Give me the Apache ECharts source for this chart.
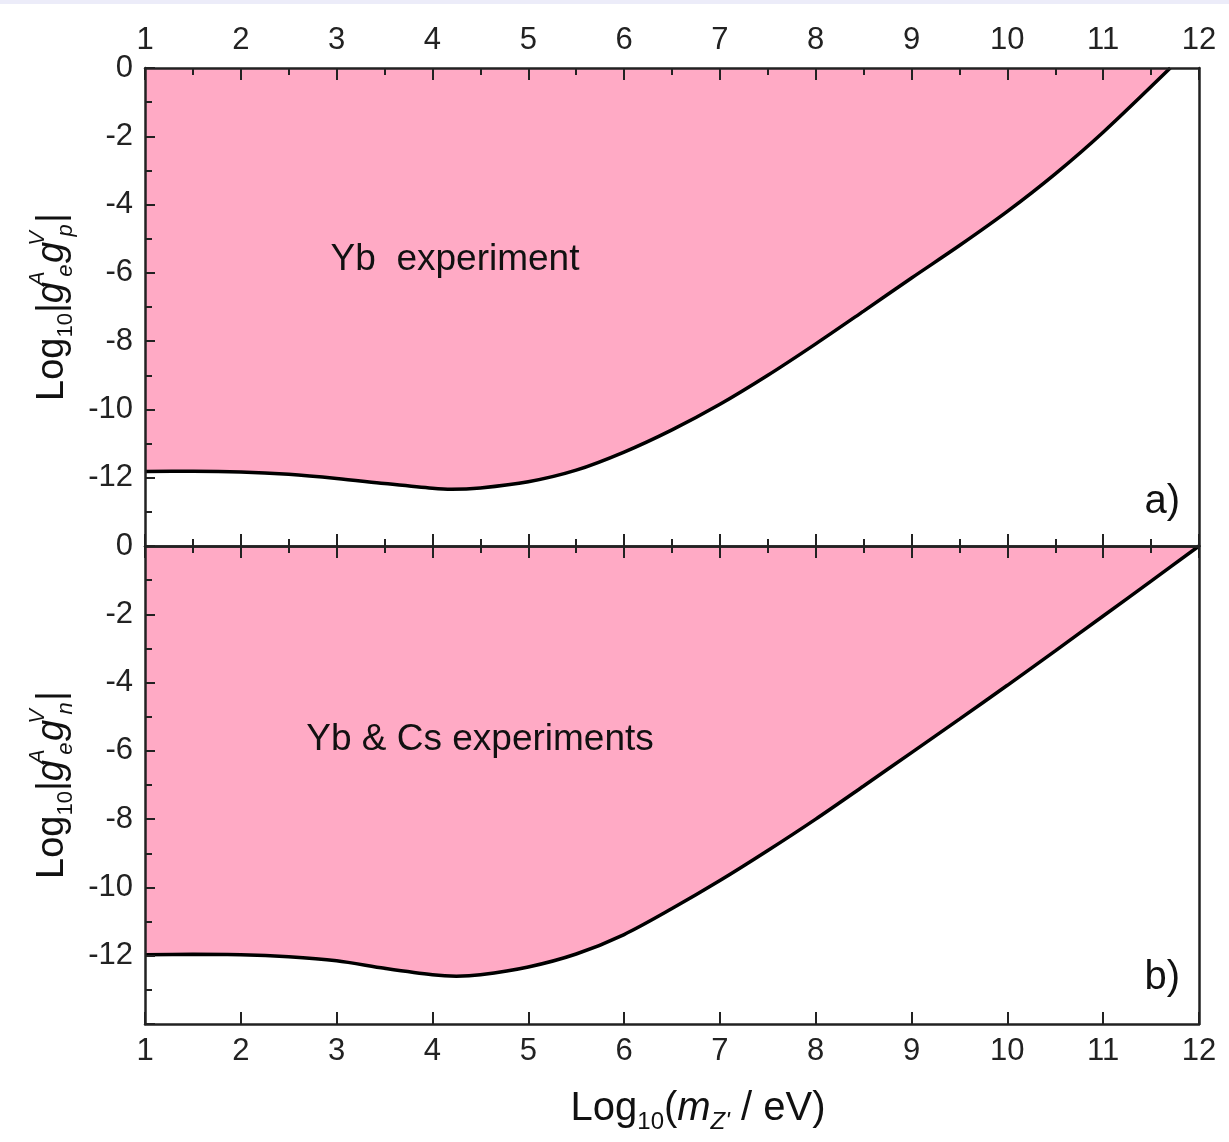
<!DOCTYPE html>
<html>
<head>
<meta charset="utf-8">
<script src="https://cdn.jsdelivr.net/npm/echarts@6/dist/echarts.min.js"></script>
<style>
  html, body { margin: 0; padding: 0; background: #fff; }
  #chart { width: 1229px; height: 1142px; }
</style>
</head>
<body>
<div id="chart"></div>
<script>
// panel a) Yb experiment: boundary of excluded region
const xA = [1, 1.5, 2, 2.5, 3, 3.5, 4, 4.2, 4.5, 5, 5.5, 6, 6.5, 7, 7.5, 8, 8.5, 9, 9.5, 10, 10.5, 11, 11.7]
const yA = [-11.82, -11.81, -11.83, -11.9, -12.02, -12.17, -12.31, -12.34, -12.3, -12.12, -11.78, -11.25, -10.6, -9.85, -9.0, -8.08, -7.12, -6.15, -5.2, -4.2, -3.1, -1.88, 0]

// panel b) Yb & Cs experiments
const xB = [1, 1.5, 2, 2.5, 3, 3.5, 4, 4.25, 4.5, 5, 5.5, 6, 6.5, 7, 7.5, 8, 8.5, 9, 9.5, 10, 10.5, 11, 11.5, 12]
const yB = [-11.97, -11.96, -11.97, -12.03, -12.15, -12.37, -12.56, -12.6, -12.56, -12.33, -11.95, -11.38, -10.62, -9.8, -8.92, -8.0, -7.03, -6.05, -5.07, -4.08, -3.07, -2.05, -1.03, 0]

const xRange = [1, 12]
const yRange = [-14, 0]

const FONT = '"Liberation Sans", Arial, sans-serif'
const AX = '#222'
const FILL = '#ffaac5'

function pairs(xs, ys) {
  return xs.map((x, i) => [x, ys[i]])
}

function makeX(gridIndex, position, showLabel, minor) {
  return {
    type: 'value',
    gridIndex: gridIndex,
    position: position,
    min: xRange[0],
    max: xRange[1],
    interval: 1,
    z: 5,
    axisLine: { show: true, onZero: false, lineStyle: { color: AX, width: 2.5 } },
    axisTick: { show: true, inside: true, length: 12, lineStyle: { color: AX, width: 2 } },
    minorTick: { show: minor, splitNumber: 2, length: 7, lineStyle: { color: AX, width: 2 } },
    axisLabel: { show: showLabel, fontSize: 31, color: '#222', fontFamily: FONT, margin: 12 },
    splitLine: { show: false }
  }
}

const nameRich = {
  n: { fontSize: 38, fontFamily: FONT, color: '#111', lineHeight: 50 },
  x: { fontSize: 40, fontFamily: FONT, color: '#111', lineHeight: 50 },
  xi: { fontSize: 40, fontFamily: FONT, color: '#111', lineHeight: 50, fontStyle: 'italic' },
  g: { fontSize: 38, fontFamily: FONT, color: '#111', lineHeight: 50, fontStyle: 'italic', padding: [0, 3, 0, 0] },
  s: { fontSize: 22, fontFamily: FONT, color: '#111', lineHeight: 22, verticalAlign: 'bottom' },
  s2: { fontSize: 24, fontFamily: FONT, color: '#111', lineHeight: 24, verticalAlign: 'bottom' },
  si: { fontSize: 22, fontFamily: FONT, color: '#111', lineHeight: 22, verticalAlign: 'bottom', fontStyle: 'italic', width: 15 },
  si2: { fontSize: 24, fontFamily: FONT, color: '#111', lineHeight: 24, verticalAlign: 'bottom', fontStyle: 'italic' },
  p: { fontSize: 22, fontFamily: FONT, color: '#111', lineHeight: 22, verticalAlign: 'top', fontStyle: 'italic', width: 1 }
}

function makeY(gridIndex, name) {
  return {
    type: 'value',
    gridIndex: gridIndex,
    position: 'left',
    min: yRange[0],
    max: yRange[1],
    interval: 2,
    z: 5,
    name: name,
    nameLocation: 'middle',
    nameRotate: 90,
    nameGap: 60,
    nameTextStyle: { rich: nameRich },
    axisLine: { show: true, onZero: false, lineStyle: { color: AX, width: 2.5 } },
    axisTick: { show: true, inside: true, length: 10, lineStyle: { color: AX, width: 2 } },
    minorTick: { show: true, splitNumber: 2, length: 7, lineStyle: { color: AX, width: 2 } },
    axisLabel: { fontSize: 31, color: '#222', fontFamily: FONT, margin: 12, showMinLabel: false },
    splitLine: { show: false }
  }
}

function makeRightY(gridIndex) {
  return {
    type: 'value',
    gridIndex: gridIndex,
    position: 'right',
    min: yRange[0],
    max: yRange[1],
    z: 5,
    axisLine: { show: true, onZero: false, lineStyle: { color: AX, width: 2.5 } },
    axisTick: { show: false },
    axisLabel: { show: false },
    splitLine: { show: false }
  }
}

function makeSeries(xi, yi, data) {
  return {
    type: 'line',
    xAxisIndex: xi,
    yAxisIndex: yi,
    data: data,
    smooth: 0.3,
    symbol: 'none',
    lineStyle: { color: '#000', width: 3.5 },
    areaStyle: { color: FILL, opacity: 1, origin: 'end' },
    z: 2
  }
}

const chart = echarts.init(document.getElementById('chart'))
chart.setOption({
  backgroundColor: '#fff',
  animation: false,
  grid: [
    { left: 145, right: 30, top: 68, height: 478 },
    { left: 145, right: 30, top: 546, height: 478 }
  ],
  xAxis: [
    makeX(0, 'top', true, true),
    makeX(0, 'bottom', false, true),
    makeX(1, 'top', false, true),
    Object.assign(makeX(1, 'bottom', true, false), {
      name: '{x|Log}{s2|10}{x|(}{xi|m}{si2|Z\'}{x| / eV)}',
      nameLocation: 'middle',
      nameGap: 60,
      nameTextStyle: { rich: nameRich, padding: [0, 0, 0, 52] }
    })
  ],
  yAxis: [
    makeY(0, '{n|Log}{s|10}{n||}{g|g}{p|A}{si|e}{g|g}{p|V}{si|p}{n||}'),
    makeRightY(0),
    makeY(1, '{n|Log}{s|10}{n||}{g|g}{p|A}{si|e}{g|g}{p|V}{si|n}{n||}'),
    makeRightY(1)
  ],
  series: [
    makeSeries(0, 0, pairs(xA, yA)),
    makeSeries(3, 2, pairs(xB, yB))
  ],
  graphic: [
    { type: 'rect', shape: { x: 0, y: 0, width: 1229, height: 4 }, style: { fill: '#ececf9' }, silent: true },
    { type: 'text', z: 100, x: 455, y: 260, style: { text: 'Yb  experiment', fontSize: 37, fontFamily: FONT, fill: '#111', align: 'center', verticalAlign: 'middle' } },
    { type: 'text', z: 100, x: 480, y: 740, style: { text: 'Yb & Cs experiments', fontSize: 37, fontFamily: FONT, fill: '#111', align: 'center', verticalAlign: 'middle' } },
    { type: 'text', z: 100, x: 1180, y: 502, style: { text: 'a)', fontSize: 40, fontFamily: FONT, fill: '#111', align: 'right', verticalAlign: 'middle' } },
    { type: 'text', z: 100, x: 1180, y: 978, style: { text: 'b)', fontSize: 40, fontFamily: FONT, fill: '#111', align: 'right', verticalAlign: 'middle' } }
  ]
})
</script>
</body>
</html>
